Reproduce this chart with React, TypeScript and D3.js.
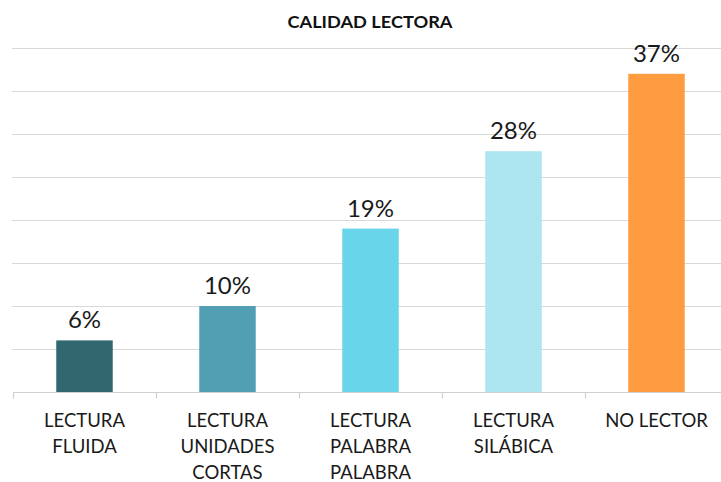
import React, { useEffect, useRef } from "react";
import * as d3 from "d3";

const categories = [
  ["LECTURA", "FLUIDA"],
  ["LECTURA", "UNIDADES", "CORTAS"],
  ["LECTURA", "PALABRA", "PALABRA"],
  ["LECTURA", "SILÁBICA"],
  ["NO LECTOR"],
];
const values = [6, 10, 19, 28, 37];
const colors = ["#31686f", "#529fb3", "#69d5ea", "#ade6f1", "#ff9c3f"];
const gridTicks = [0, 5, 10, 15, 20, 25, 30, 35, 40];
const title = "CALIDAD LECTORA";

const FONT = "Lato, 'Open Sans', sans-serif";

export default function App() {
  const ref = useRef<SVGSVGElement>(null);

  useEffect(() => {
    const width = 721;
    const height = 482;
    const margin = { top: 48, left: 13, right: -7, bottom: 90 };

    const svg = d3.select(ref.current);
    svg.selectAll("*").remove();

    const x = d3.scaleBand<number>()
      .domain(d3.range(values.length))
      .range([margin.left, width - margin.right])
      .paddingInner(0.605)
      .paddingOuter(0.3025);

    const y = d3.scaleLinear()
      .domain([0, 40])
      .range([height - margin.bottom, margin.top]);

    // gridlines
    svg.append("g")
      .selectAll("line")
      .data(gridTicks.slice(1))
      .enter()
      .append("line")
      .attr("x1", 12)
      .attr("x2", width)
      .attr("y1", d => Math.round(y(d)) + 0.5)
      .attr("y2", d => Math.round(y(d)) + 0.5)
      .attr("stroke", "#d9d9d9")
      .attr("stroke-width", 1.2);

    // bars
    svg.append("g")
      .selectAll("rect")
      .data(values)
      .enter()
      .append("rect")
      .attr("x", (d, i) => x(i)!)
      .attr("y", d => y(d))
      .attr("width", x.bandwidth())
      .attr("height", d => y(0) - y(d))
      .attr("fill", (d, i) => colors[i]);

    // x axis
    const base = Math.round(y(0)) + 0.5;
    svg.append("line")
      .attr("x1", margin.left)
      .attr("x2", width)
      .attr("y1", base)
      .attr("y2", base)
      .attr("stroke", "#d0d0d0")
      .attr("stroke-width", 1.2);

    const step = x.step();
    svg.append("g")
      .selectAll("line")
      .data(d3.range(values.length + 1))
      .enter()
      .append("line")
      .attr("x1", i => Math.round(margin.left + i * step) + 0.5)
      .attr("x2", i => Math.round(margin.left + i * step) + 0.5)
      .attr("y1", base)
      .attr("y2", base + 6)
      .attr("stroke", "#d0d0d0")
      .attr("stroke-width", 1.2);

    // value labels
    svg.append("g")
      .selectAll("text")
      .data(values)
      .enter()
      .append("text")
      .attr("x", (d, i) => x(i)! + x.bandwidth() / 2)
      .attr("y", d => y(d) - 12)
      .attr("text-anchor", "middle")
      .attr("font-family", FONT)
      .attr("font-size", 24)
      .attr("fill", "#1a1a1a")
      .text(d => `${d}%`);

    // category labels
    const cats = svg.append("g")
      .selectAll("text")
      .data(categories)
      .enter()
      .append("text")
      .attr("text-anchor", "middle")
      .attr("font-family", FONT)
      .attr("font-size", 18.5)
      .attr("fill", "#1a1a1a");

    cats.each(function (lines, i) {
      const cx = x(i)! + x.bandwidth() / 2;
      d3.select(this)
        .selectAll("tspan")
        .data(lines)
        .enter()
        .append("tspan")
        .attr("x", cx)
        .attr("y", (w, j) => 427 + j * 26)
        .text(w => w);
    });

    // title
    svg.append("text")
      .attr("x", 370)
      .attr("y", 28)
      .attr("text-anchor", "middle")
      .attr("font-family", FONT)
      .attr("font-size", 17)
      .attr("font-weight", "bold")
      .attr("fill", "#111")
      .attr("textLength", 165)
      .attr("lengthAdjust", "spacingAndGlyphs")
      .text(title);
  }, []);

  return (
    <svg
      ref={ref}
      width={721}
      height={482}
      style={{ position: "absolute", left: 0, top: 0, background: "#fff" }}
    />
  );
}
